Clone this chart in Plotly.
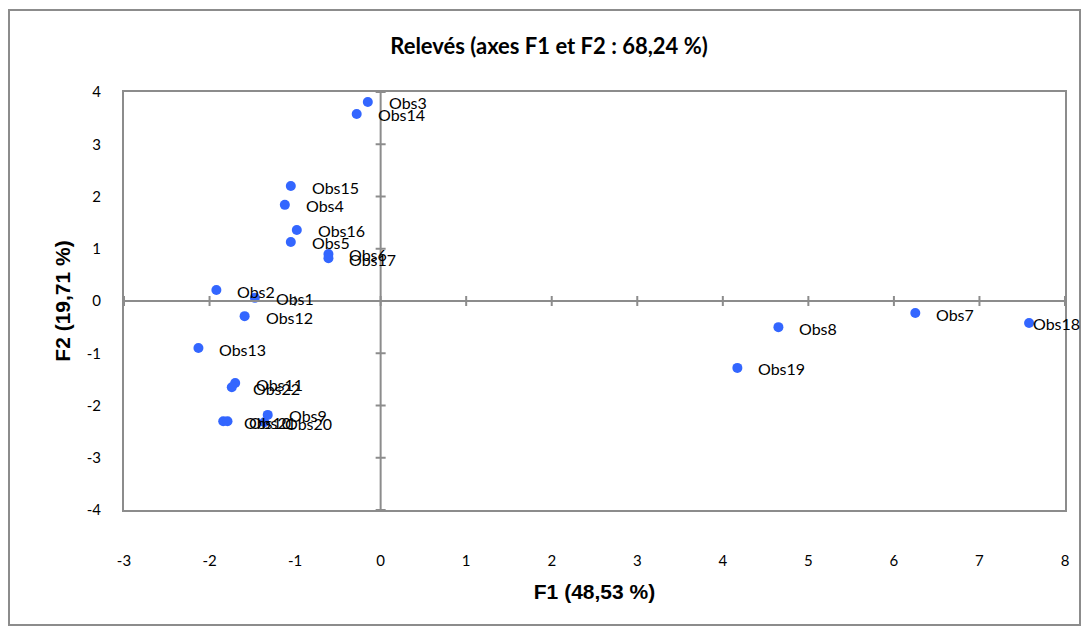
import plotly.graph_objects as go

labels = ["Obs1", "Obs2", "Obs3", "Obs4", "Obs5", "Obs6", "Obs7", "Obs8", "Obs9", "Obs10",
          "Obs11", "Obs12", "Obs13", "Obs14", "Obs15", "Obs16", "Obs17", "Obs18", "Obs19",
          "Obs20", "Obs21", "Obs22"]
f1 = [-1.47, -1.92, -0.15, -1.12, -1.05, -0.61, 6.25, 4.65, -1.32, -1.84,
      -1.70, -1.59, -2.13, -0.28, -1.05, -0.98, -0.61, 7.58, 4.17,
      -1.36, -1.79, -1.74]
f2 = [0.06, 0.21, 3.81, 1.84, 1.13, 0.90, -0.23, -0.50, -2.18, -2.30,
      -1.57, -0.29, -0.90, 3.58, 2.20, 1.36, 0.82, -0.42, -1.28,
      -2.32, -2.30, -1.65]
x_ticks = [-3, -2, -1, 0, 1, 2, 3, 4, 5, 6, 7, 8]
y_ticks = [-4, -3, -2, -1, 0, 1, 2, 3, 4]

FONT = "Lato"
TFONT = "Liberation Sans"
GRAY = "#8c8c8c"

# page body has an 8px margin: figure is placed at (8, 8) in the window;
# keep the page small enough that nothing is cut or scrolled
W, H = 1073, 618
ML, MT, MR, MB = 116, 84, 16, 116
PW, PH = W - ML - MR, H - MT - MB

fig = go.Figure()
fig.add_trace(go.Scatter(
    x=f1, y=f2, mode="markers",
    marker=dict(color="#3366ff", size=10),
    hovertext=labels, showlegend=False,
))

X_MAX = 8
for lab, xv, yv in zip(labels, f1, f2):
    # pixels of room to the right edge of the plot area
    room = (X_MAX - xv) / 11 * PW
    shift = 19 if room > 60 else 2
    fig.add_annotation(x=xv, y=yv, text=lab, showarrow=False,
                       xanchor="left", yanchor="middle", xshift=shift, yshift=-1,
                       font=dict(family=FONT, size=16, color="#000000"))

shapes = []
# zero lines
shapes.append(dict(type="line", xref="x", yref="paper", x0=0, x1=0, y0=0, y1=1,
                   line=dict(color=GRAY, width=2)))
shapes.append(dict(type="line", xref="paper", yref="y", x0=0, x1=1, y0=0, y1=0,
                   line=dict(color=GRAY, width=2)))
# cross tick marks on the zero lines
for t in x_ticks:
    shapes.append(dict(type="line", xref="x", yref="y", ysizemode="pixel", yanchor=0,
                       x0=t, x1=t, y0=-5, y1=5, line=dict(color=GRAY, width=2)))
for t in y_ticks:
    shapes.append(dict(type="line", xref="x", yref="y", xsizemode="pixel", xanchor=0,
                       y0=t, y1=t, x0=-5, x1=5, line=dict(color=GRAY, width=2)))
# outer chart border
bx0, bx1, by0, by1 = 1, W - 1, 2, H - 1
shapes.append(dict(type="rect", xref="paper", yref="paper",
                   x0=(bx0 - ML) / PW, x1=(bx1 - ML) / PW,
                   y0=(MT + PH - by1) / PH, y1=(MT + PH - by0) / PH,
                   line=dict(color=GRAY, width=2), fillcolor="rgba(0,0,0,0)", layer="below"))

fig.update_layout(
    width=W, height=H,
    margin=dict(l=ML, r=MR, t=MT, b=MB),
    paper_bgcolor="white", plot_bgcolor="white",
    shapes=shapes,
    title=dict(text="<b>Relevés (axes F1 et F2 : 68,24 %)</b>", x=541 / W,
               xanchor="center", y=1 - 38 / H, yanchor="middle",
               font=dict(family=FONT, size=22, color="#000000")),
    xaxis=dict(range=[-3, X_MAX], tickvals=x_ticks, ticktext=[str(t) for t in x_ticks],
               showgrid=False, zeroline=False,
               showline=True, linecolor=GRAY, linewidth=2, mirror=True,
               ticks="outside", ticklen=36, tickcolor="rgba(0,0,0,0)",
               tickfont=dict(family=FONT, size=15, color="#000000"),
               title=dict(text="<b>F1 (48,53 %)</b>", standoff=16,
                          font=dict(family=TFONT, size=21, color="#000000"))),
    yaxis=dict(range=[-4, 4], tickvals=y_ticks, ticktext=[str(t) for t in y_ticks],
               showgrid=False, zeroline=False,
               showline=True, linecolor=GRAY, linewidth=2, mirror=True,
               ticks="outside", ticklen=18, tickcolor="rgba(0,0,0,0)",
               tickfont=dict(family=FONT, size=15, color="#000000"),
               title=dict(text="<b>F2 (19,71 %)</b>", standoff=10,
                          font=dict(family=TFONT, size=21, color="#000000"))),
)

fig.write_html("out.html")
